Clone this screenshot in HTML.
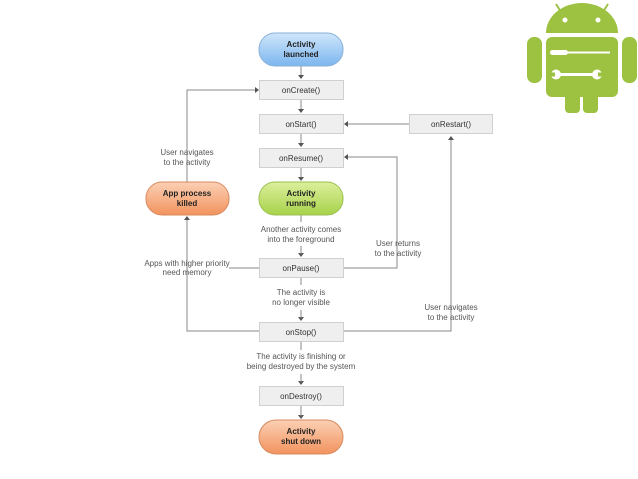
<!DOCTYPE html>
<html><head><style>
body{margin:0;background:#fff;width:638px;height:479px;overflow:hidden}
svg{display:block}
text{font-family:"Liberation Sans",sans-serif;font-size:8px;fill:#555;text-anchor:middle}
.b{font-weight:bold;fill:#222}
.box{fill:#efefef;stroke:#cfcfcf;stroke-width:1}
.bx{fill:#333}
.ln{stroke:#888;stroke-width:1;fill:none}
</style></head><body>
<svg width="638" height="479" viewBox="0 0 638 479">
<defs>
<linearGradient id="gb" x1="0" y1="0" x2="0" y2="1"><stop offset="0" stop-color="#cfe6fb"/><stop offset="1" stop-color="#7cb6ef"/></linearGradient>
<linearGradient id="gg" x1="0" y1="0" x2="0" y2="1"><stop offset="0" stop-color="#dcef9c"/><stop offset="1" stop-color="#a7d24a"/></linearGradient>
<linearGradient id="go" x1="0" y1="0" x2="0" y2="1"><stop offset="0" stop-color="#fbd0b4"/><stop offset="1" stop-color="#f2935e"/></linearGradient>
</defs>
<!-- connectors -->
<g class="ln">
<line x1="301" y1="66" x2="301" y2="78"/>
<line x1="301" y1="99" x2="301" y2="112"/>
<line x1="301" y1="133" x2="301" y2="146"/>
<line x1="301" y1="167" x2="301" y2="180"/>
<line x1="301" y1="215" x2="301" y2="222"/>
<line x1="301" y1="277" x2="301" y2="285"/>
<line x1="301" y1="341" x2="301" y2="350"/>
<polyline points="187,170 187,90 255,90"/>
<line x1="187" y1="155" x2="187" y2="182"/>
<polyline points="187,219 187,331 259,331"/>
<line x1="229" y1="268" x2="259" y2="268"/>
<line x1="409" y1="124" x2="347" y2="124"/>
<polyline points="343,268 397,268 397,157 347,157"/>
<polyline points="343,331 451,331 451,137"/>
</g>
<g fill="#555">
<polygon points="298,75 304,75 301,79"/>
<polygon points="298,109 304,109 301,113"/>
<polygon points="298,143 304,143 301,147"/>
<polygon points="298,177 304,177 301,181"/>
<polygon points="298,253 304,253 301,257"/>
<polygon points="298,317 304,317 301,321"/>
<polygon points="298,381 304,381 301,385"/>
<polygon points="298,415 304,415 301,419"/>
<polygon points="255,87 255,93 259,90"/>
<polygon points="348,121 348,127 344,124"/>
<polygon points="348,154 348,160 344,157"/>
<polygon points="184,220 190,220 187,216"/>
<polygon points="448,140 454,140 451,136"/>
</g>
<g class="ln"><line x1="301" y1="246" x2="301" y2="254"/><line x1="301" y1="310" x2="301" y2="318"/><line x1="301" y1="374" x2="301" y2="382"/><line x1="301" y1="405" x2="301" y2="416"/></g>
<!-- pills -->
<rect x="259" y="33" width="84" height="33" rx="16" fill="url(#gb)" stroke="#8ab0d8"/>
<text class="b" x="301" y="47">Activity</text><text class="b" x="301" y="57">launched</text>
<rect x="259" y="182" width="84" height="33" rx="16" fill="url(#gg)" stroke="#9cbf50"/>
<text class="b" x="301" y="196">Activity</text><text class="b" x="301" y="206">running</text>
<rect x="146" y="182" width="83" height="33" rx="16" fill="url(#go)" stroke="#d88a60"/>
<text class="b" x="187" y="196">App process</text><text class="b" x="187" y="206">killed</text>
<rect x="259" y="420" width="84" height="34" rx="17" fill="url(#go)" stroke="#d88a60"/>
<text class="b" x="301" y="434">Activity</text><text class="b" x="301" y="444">shut down</text>
<!-- boxes -->
<rect class="box" x="259.5" y="80.5" width="84" height="19"/><text class="bx" x="301" y="93">onCreate()</text>
<rect class="box" x="259.5" y="114.5" width="84" height="19"/><text class="bx" x="301" y="127">onStart()</text>
<rect class="box" x="259.5" y="148.5" width="84" height="19"/><text class="bx" x="301" y="161">onResume()</text>
<rect class="box" x="409.5" y="114.5" width="83" height="19"/><text class="bx" x="451" y="127">onRestart()</text>
<rect class="box" x="259.5" y="258.5" width="84" height="19"/><text class="bx" x="301" y="271">onPause()</text>
<rect class="box" x="259.5" y="322.5" width="84" height="19"/><text class="bx" x="301" y="335">onStop()</text>
<rect class="box" x="259.5" y="386.5" width="84" height="19"/><text class="bx" x="301" y="399">onDestroy()</text>
<!-- labels -->
<text x="187" y="155">User navigates</text><text x="187" y="165">to the activity</text>
<text x="301" y="232">Another activity comes</text><text x="301" y="242">into the foreground</text>
<text x="398" y="246">User returns</text><text x="398" y="256">to the activity</text>
<text x="187" y="266">Apps with higher priority</text><text x="187" y="275">need memory</text>
<text x="301" y="295">The activity is</text><text x="301" y="305">no longer visible</text>
<text x="451" y="310">User navigates</text><text x="451" y="320">to the activity</text>
<text x="301" y="359">The activity is finishing or</text><text x="301" y="369">being destroyed by the system</text>
<!-- android -->
<g fill="#9dc140">
<path d="M546,33 A36,30 0 0 1 618,33 Z"/>
<line x1="556" y1="4" x2="561" y2="12" stroke="#9dc140" stroke-width="2"/>
<line x1="608" y1="4" x2="603" y2="12" stroke="#9dc140" stroke-width="2"/>
<rect x="546" y="37" width="72" height="60" rx="6"/>
<rect x="527" y="37" width="15" height="46" rx="7"/>
<rect x="622" y="37" width="15" height="46" rx="7"/>
<rect x="565" y="90" width="15" height="23" rx="4"/>
<rect x="583" y="90" width="15" height="23" rx="4"/>
</g>
<circle cx="565" cy="20" r="2.5" fill="#fff"/><circle cx="598" cy="20" r="2.5" fill="#fff"/>
<g fill="#fff">
<rect x="550" y="50" width="18" height="5" rx="2.5"/>
<rect x="566" y="51.5" width="44" height="2"/>
<rect x="556" y="73" width="40" height="3"/>
<circle cx="556" cy="74.5" r="5"/><circle cx="597" cy="74.5" r="5"/>
</g>
<g fill="#9dc140"><rect x="549" y="72.5" width="6" height="4"/><rect x="598" y="72.5" width="6" height="4"/></g>
</svg>
</body></html>
